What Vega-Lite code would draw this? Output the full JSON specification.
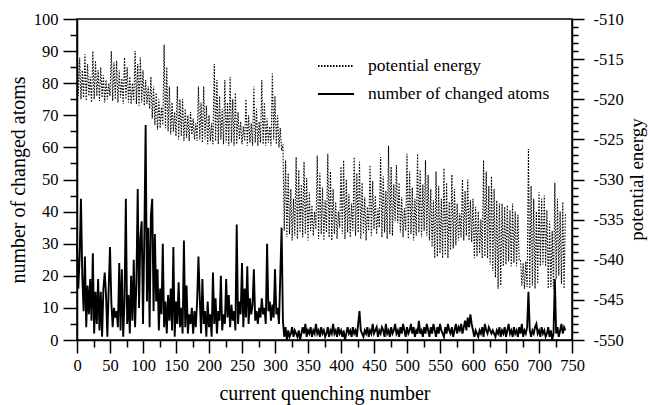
{
"$schema": "https://vega.github.io/schema/vega-lite/v6.json",
"width": 495, "height": 321,
"autosize": {"type": "none"},
"padding": {"left": 77, "top": 19, "right": 78, "bottom": 65},
"background": "white",
"data": {"values": [
{"q":0,"n":30,"e":-512.4},{"q":2,"n":16,"e":-519.6},{"q":4,"n":26,"e":-514.8},{"q":6,"n":44,"e":-520.0},{"q":8,"n":20,"e":-516.4},
{"q":10,"n":9,"e":-519.8},{"q":12,"n":26,"e":-514.4},{"q":14,"n":4,"e":-520.2},{"q":16,"n":17,"e":-515.6},{"q":18,"n":8,"e":-519.6},
{"q":20,"n":19,"e":-517.2},{"q":22,"n":6,"e":-520.4},{"q":24,"n":27,"e":-514.0},{"q":26,"n":2,"e":-520.0},{"q":28,"n":15,"e":-515.2},
{"q":30,"n":5,"e":-519.6},{"q":32,"n":19,"e":-516.4},{"q":34,"n":3,"e":-520.2},{"q":36,"n":15,"e":-516.0},{"q":38,"n":1,"e":-519.8},
{"q":40,"n":16,"e":-517.0},{"q":42,"n":21,"e":-520.4},{"q":44,"n":14,"e":-517.6},{"q":46,"n":1,"e":-520.0},{"q":48,"n":16,"e":-518.0},
{"q":50,"n":29,"e":-519.6},{"q":52,"n":12,"e":-514.0},{"q":54,"n":4,"e":-520.2},{"q":56,"n":10,"e":-515.4},{"q":58,"n":7,"e":-520.0},
{"q":60,"n":9,"e":-515.2},{"q":62,"n":4,"e":-520.4},{"q":64,"n":24,"e":-516.4},{"q":66,"n":3,"e":-519.8},{"q":68,"n":22,"e":-517.4},
{"q":70,"n":1,"e":-520.6},{"q":72,"n":12,"e":-514.8},{"q":74,"n":44,"e":-520.0},{"q":76,"n":5,"e":-516.0},{"q":78,"n":14,"e":-520.4},
{"q":80,"n":2,"e":-517.2},{"q":82,"n":20,"e":-520.6},{"q":84,"n":6,"e":-518.0},{"q":86,"n":25,"e":-520.2},{"q":88,"n":4,"e":-514.0},
{"q":90,"n":18,"e":-520.6},{"q":92,"n":47,"e":-515.6},{"q":94,"n":10,"e":-520.8},{"q":96,"n":32,"e":-514.8},{"q":98,"n":37,"e":-520.4},
{"q":100,"n":5,"e":-516.4},{"q":102,"n":32,"e":-520.8},{"q":104,"n":67,"e":-517.6},{"q":106,"n":12,"e":-520.6},{"q":108,"n":35,"e":-518.4},
{"q":110,"n":4,"e":-521.2},{"q":112,"n":39,"e":-517.2},{"q":114,"n":44,"e":-522.4},{"q":116,"n":9,"e":-518.4},{"q":118,"n":33,"e":-523.2},
{"q":120,"n":12,"e":-519.2},{"q":122,"n":22,"e":-523.8},{"q":124,"n":3,"e":-520.0},{"q":126,"n":16,"e":-523.6},{"q":128,"n":8,"e":-521.0},
{"q":130,"n":30,"e":-523.2},{"q":132,"n":4,"e":-513.2},{"q":134,"n":12,"e":-523.6},{"q":136,"n":2,"e":-516.0},{"q":138,"n":14,"e":-524.0},
{"q":140,"n":6,"e":-518.4},{"q":142,"n":16,"e":-524.4},{"q":144,"n":3,"e":-520.4},{"q":146,"n":29,"e":-524.0},{"q":148,"n":1,"e":-521.6},
{"q":150,"n":12,"e":-524.6},{"q":152,"n":5,"e":-518.4},{"q":154,"n":18,"e":-525.0},{"q":156,"n":4,"e":-520.0},{"q":158,"n":10,"e":-524.6},
{"q":160,"n":2,"e":-520.0},{"q":162,"n":31,"e":-525.2},{"q":164,"n":4,"e":-521.2},{"q":166,"n":17,"e":-524.8},{"q":168,"n":2,"e":-522.0},
{"q":170,"n":8,"e":-525.2},{"q":172,"n":5,"e":-521.6},{"q":174,"n":10,"e":-524.4},{"q":176,"n":2,"e":-522.4},{"q":178,"n":9,"e":-525.0},
{"q":180,"n":4,"e":-523.0},{"q":182,"n":12,"e":-525.2},{"q":184,"n":26,"e":-518.4},{"q":186,"n":13,"e":-525.0},{"q":188,"n":2,"e":-520.4},
{"q":190,"n":19,"e":-525.4},{"q":192,"n":5,"e":-518.4},{"q":194,"n":9,"e":-525.0},{"q":196,"n":1,"e":-520.8},{"q":198,"n":12,"e":-525.6},
{"q":200,"n":4,"e":-522.0},{"q":202,"n":8,"e":-525.2},{"q":204,"n":1,"e":-523.0},{"q":206,"n":21,"e":-525.6},{"q":208,"n":5,"e":-515.6},
{"q":210,"n":13,"e":-525.2},{"q":212,"n":2,"e":-517.6},{"q":214,"n":9,"e":-525.6},{"q":216,"n":6,"e":-519.6},{"q":218,"n":20,"e":-525.0},
{"q":220,"n":3,"e":-521.2},{"q":222,"n":8,"e":-525.6},{"q":224,"n":5,"e":-517.6},{"q":226,"n":19,"e":-525.4},{"q":228,"n":7,"e":-520.4},
{"q":230,"n":14,"e":-525.8},{"q":232,"n":4,"e":-517.2},{"q":234,"n":11,"e":-525.4},{"q":236,"n":6,"e":-520.0},{"q":238,"n":9,"e":-525.8},
{"q":240,"n":3,"e":-519.2},{"q":242,"n":36,"e":-525.6},{"q":244,"n":5,"e":-521.6},{"q":246,"n":12,"e":-525.0},{"q":248,"n":8,"e":-522.8},
{"q":250,"n":24,"e":-525.6},{"q":252,"n":4,"e":-523.4},{"q":254,"n":16,"e":-525.2},{"q":256,"n":7,"e":-520.0},{"q":258,"n":23,"e":-525.8},
{"q":260,"n":5,"e":-522.0},{"q":262,"n":13,"e":-525.4},{"q":264,"n":8,"e":-523.0},{"q":266,"n":11,"e":-525.8},{"q":268,"n":22,"e":-518.4},
{"q":270,"n":6,"e":-525.4},{"q":272,"n":9,"e":-521.2},{"q":274,"n":5,"e":-525.8},{"q":276,"n":10,"e":-522.8},{"q":278,"n":7,"e":-525.4},
{"q":280,"n":13,"e":-517.6},{"q":282,"n":8,"e":-525.6},{"q":284,"n":10,"e":-520.4},{"q":286,"n":5,"e":-525.8},{"q":288,"n":30,"e":-522.4},
{"q":290,"n":9,"e":-525.4},{"q":292,"n":12,"e":-523.4},{"q":294,"n":6,"e":-525.8},{"q":296,"n":11,"e":-516.8},{"q":298,"n":7,"e":-525.0},
{"q":300,"n":22,"e":-519.6},{"q":302,"n":8,"e":-525.6},{"q":304,"n":10,"e":-522.0},{"q":306,"n":5,"e":-526.0},{"q":308,"n":20,"e":-523.6},
{"q":310,"n":35,"e":-526.4},{"q":312,"n":6,"e":-525.6},{"q":314,"n":1,"e":-536.4},{"q":316,"n":4,"e":-527.6},{"q":318,"n":0,"e":-537.2},
{"q":320,"n":3,"e":-529.2},{"q":322,"n":1,"e":-536.8},{"q":324,"n":2,"e":-531.2},{"q":326,"n":4,"e":-537.6},{"q":328,"n":1,"e":-532.4},
{"q":330,"n":3,"e":-537.0},{"q":332,"n":2,"e":-527.2},{"q":334,"n":1,"e":-537.4},{"q":336,"n":3,"e":-528.8},{"q":338,"n":0,"e":-536.6},
{"q":340,"n":2,"e":-530.6},{"q":342,"n":4,"e":-537.2},{"q":344,"n":2,"e":-527.8},{"q":346,"n":5,"e":-536.8},{"q":348,"n":1,"e":-529.8},
{"q":350,"n":3,"e":-537.6},{"q":352,"n":2,"e":-531.6},{"q":354,"n":4,"e":-536.4},{"q":356,"n":1,"e":-533.2},{"q":358,"n":3,"e":-537.0},
{"q":360,"n":2,"e":-534.0},{"q":362,"n":5,"e":-536.2},{"q":364,"n":2,"e":-527.0},{"q":366,"n":3,"e":-537.4},{"q":368,"n":1,"e":-529.2},
{"q":370,"n":4,"e":-536.8},{"q":372,"n":2,"e":-531.0},{"q":374,"n":3,"e":-537.6},{"q":376,"n":1,"e":-532.6},{"q":378,"n":2,"e":-536.6},
{"q":380,"n":4,"e":-526.8},{"q":382,"n":1,"e":-537.2},{"q":384,"n":3,"e":-529.0},{"q":386,"n":2,"e":-537.6},{"q":388,"n":5,"e":-531.2},
{"q":390,"n":2,"e":-536.8},{"q":392,"n":3,"e":-532.8},{"q":394,"n":1,"e":-537.4},{"q":396,"n":4,"e":-534.0},{"q":398,"n":2,"e":-536.0},
{"q":400,"n":3,"e":-528.4},{"q":402,"n":1,"e":-536.8},{"q":404,"n":3,"e":-527.6},{"q":406,"n":0,"e":-537.4},{"q":408,"n":2,"e":-530.0},
{"q":410,"n":4,"e":-536.6},{"q":412,"n":2,"e":-531.8},{"q":414,"n":3,"e":-537.2},{"q":416,"n":1,"e":-533.0},{"q":418,"n":4,"e":-536.4},
{"q":420,"n":2,"e":-527.2},{"q":422,"n":3,"e":-537.0},{"q":424,"n":1,"e":-529.2},{"q":426,"n":5,"e":-536.6},{"q":428,"n":9,"e":-527.8},
{"q":430,"n":3,"e":-537.4},{"q":432,"n":2,"e":-530.4},{"q":434,"n":1,"e":-536.8},{"q":436,"n":3,"e":-532.2},{"q":438,"n":2,"e":-537.6},
{"q":440,"n":4,"e":-533.4},{"q":442,"n":1,"e":-536.4},{"q":444,"n":3,"e":-528.2},{"q":446,"n":2,"e":-537.0},{"q":448,"n":5,"e":-530.2},
{"q":450,"n":2,"e":-536.2},{"q":452,"n":3,"e":-532.0},{"q":454,"n":4,"e":-536.8},{"q":456,"n":1,"e":-533.6},{"q":458,"n":3,"e":-536.0},
{"q":460,"n":2,"e":-527.2},{"q":462,"n":4,"e":-537.2},{"q":464,"n":3,"e":-529.6},{"q":466,"n":1,"e":-536.6},{"q":468,"n":5,"e":-531.4},
{"q":470,"n":2,"e":-537.4},{"q":472,"n":3,"e":-525.8},{"q":474,"n":1,"e":-536.8},{"q":476,"n":4,"e":-528.4},{"q":478,"n":2,"e":-537.0},
{"q":480,"n":3,"e":-530.6},{"q":482,"n":5,"e":-535.2},{"q":484,"n":2,"e":-528.2},{"q":486,"n":3,"e":-535.4},{"q":488,"n":1,"e":-530.4},
{"q":490,"n":4,"e":-536.6},{"q":492,"n":2,"e":-532.2},{"q":494,"n":5,"e":-537.2},{"q":496,"n":3,"e":-533.6},{"q":498,"n":1,"e":-536.4},
{"q":500,"n":4,"e":-526.8},{"q":502,"n":2,"e":-537.4},{"q":504,"n":3,"e":-529.0},{"q":506,"n":5,"e":-536.8},{"q":508,"n":2,"e":-531.0},
{"q":510,"n":4,"e":-537.6},{"q":512,"n":1,"e":-532.4},{"q":514,"n":3,"e":-537.0},{"q":516,"n":2,"e":-526.8},{"q":518,"n":6,"e":-536.6},
{"q":520,"n":2,"e":-528.8},{"q":522,"n":3,"e":-537.2},{"q":524,"n":1,"e":-530.6},{"q":526,"n":4,"e":-536.4},{"q":528,"n":2,"e":-527.6},
{"q":530,"n":5,"e":-537.0},{"q":532,"n":3,"e":-529.4},{"q":534,"n":1,"e":-537.6},{"q":536,"n":4,"e":-531.2},{"q":538,"n":2,"e":-538.4},
{"q":540,"n":5,"e":-532.6},{"q":542,"n":3,"e":-539.8},{"q":544,"n":1,"e":-529.0},{"q":546,"n":4,"e":-539.6},{"q":548,"n":2,"e":-530.8},
{"q":550,"n":5,"e":-539.2},{"q":552,"n":3,"e":-532.4},{"q":554,"n":2,"e":-539.8},{"q":556,"n":1,"e":-528.6},{"q":558,"n":4,"e":-539.4},
{"q":560,"n":2,"e":-530.4},{"q":562,"n":5,"e":-539.8},{"q":564,"n":3,"e":-532.8},{"q":566,"n":2,"e":-538.8},{"q":568,"n":4,"e":-529.4},
{"q":570,"n":1,"e":-538.6},{"q":572,"n":3,"e":-531.2},{"q":574,"n":5,"e":-538.2},{"q":576,"n":2,"e":-533.0},{"q":578,"n":4,"e":-537.6},
{"q":580,"n":3,"e":-534.2},{"q":582,"n":5,"e":-537.2},{"q":584,"n":2,"e":-530.0},{"q":586,"n":4,"e":-537.6},{"q":588,"n":6,"e":-531.4},
{"q":590,"n":3,"e":-537.0},{"q":592,"n":7,"e":-530.0},{"q":594,"n":4,"e":-537.6},{"q":596,"n":8,"e":-532.6},{"q":598,"n":5,"e":-537.8},
{"q":600,"n":3,"e":-532.4},{"q":602,"n":1,"e":-539.8},{"q":604,"n":3,"e":-533.4},{"q":606,"n":2,"e":-539.6},{"q":608,"n":1,"e":-534.0},
{"q":610,"n":3,"e":-539.2},{"q":612,"n":2,"e":-535.0},{"q":614,"n":4,"e":-539.8},{"q":616,"n":1,"e":-527.6},{"q":618,"n":5,"e":-539.6},
{"q":620,"n":3,"e":-529.0},{"q":622,"n":2,"e":-539.8},{"q":624,"n":4,"e":-530.8},{"q":626,"n":3,"e":-540.6},{"q":628,"n":2,"e":-529.6},
{"q":630,"n":3,"e":-541.4},{"q":632,"n":2,"e":-531.2},{"q":634,"n":1,"e":-542.2},{"q":636,"n":3,"e":-532.6},{"q":638,"n":2,"e":-543.6},
{"q":640,"n":4,"e":-533.0},{"q":642,"n":1,"e":-543.2},{"q":644,"n":3,"e":-533.0},{"q":646,"n":2,"e":-540.8},{"q":648,"n":4,"e":-533.4},
{"q":650,"n":1,"e":-540.6},{"q":652,"n":3,"e":-533.2},{"q":654,"n":5,"e":-540.2},{"q":656,"n":2,"e":-533.8},{"q":658,"n":3,"e":-540.8},
{"q":660,"n":1,"e":-533.0},{"q":662,"n":4,"e":-540.4},{"q":664,"n":2,"e":-534.0},{"q":666,"n":3,"e":-540.8},{"q":668,"n":1,"e":-534.4},
{"q":670,"n":4,"e":-540.0},{"q":672,"n":2,"e":-540.0},{"q":674,"n":5,"e":-543.2},{"q":676,"n":1,"e":-540.4},{"q":678,"n":3,"e":-543.6},
{"q":680,"n":2,"e":-540.2},{"q":682,"n":4,"e":-543.4},{"q":684,"n":15,"e":-526.2},{"q":686,"n":3,"e":-543.6},{"q":688,"n":1,"e":-530.8},
{"q":690,"n":3,"e":-543.2},{"q":692,"n":2,"e":-532.4},{"q":694,"n":4,"e":-543.6},{"q":696,"n":5,"e":-534.0},{"q":698,"n":2,"e":-543.0},
{"q":700,"n":3,"e":-531.6},{"q":702,"n":1,"e":-540.8},{"q":704,"n":4,"e":-532.4},{"q":706,"n":2,"e":-540.6},{"q":708,"n":3,"e":-532.0},
{"q":710,"n":1,"e":-540.8},{"q":712,"n":2,"e":-533.8},{"q":714,"n":4,"e":-543.6},{"q":716,"n":1,"e":-535.2},{"q":718,"n":3,"e":-543.4},
{"q":720,"n":0,"e":-536.4},{"q":722,"n":2,"e":-543.6},{"q":724,"n":19,"e":-530.4},{"q":726,"n":2,"e":-542.4},{"q":728,"n":4,"e":-532.4},
{"q":730,"n":1,"e":-542.0},{"q":732,"n":3,"e":-534.0},{"q":734,"n":5,"e":-543.0},{"q":736,"n":2,"e":-532.8},{"q":738,"n":4,"e":-543.6},
{"q":740,"n":3,"e":-534.2}
]},
"layer": [
  {
    "layer": [
      {
        "mark": {"type": "line", "color": "black", "strokeWidth": 1.9},
        "encoding": {
          "x": {"field": "q", "type": "quantitative", "scale": {"domain": [0, 750], "nice": false},
                "axis": {"orient": "bottom", "values": [0,50,100,150,200,250,300,350,400,450,500,550,600,650,700,750],
                         "tickSize": 13, "labelPadding": 4, "title": "current quenching number", "titlePadding": 10}},
          "y": {"field": "n", "type": "quantitative", "scale": {"domain": [0, 100], "nice": false},
                "axis": {"orient": "left", "values": [0,10,20,30,40,50,60,70,80,90,100],
                         "tickSize": 14, "labelPadding": 5, "title": "number of changed atoms", "titlePadding": 5}},
          "strokeDash": {"datum": "number of changed atoms", "type": "nominal",
                "scale": {"domain": ["potential energy", "number of changed atoms"], "range": [[1.5, 1.5], [1, 0]]},
                "legend": {"orient": "none", "legendX": 240, "legendY": 28, "title": null,
                           "symbolType": "stroke", "symbolSize": 1296, "symbolStrokeWidth": 1.8,
                           "symbolStrokeColor": "black", "labelFont": "Liberation Serif", "labelFontSize": 17.5,
                           "labelColor": "black", "labelOffset": 13, "labelLimit": 400, "rowPadding": -1, "padding": 0}}
        }
      },
      {
        "mark": {"type": "line", "opacity": 0},
        "encoding": {
          "x": {"field": "q", "type": "quantitative",
                "axis": {"orient": "bottom", "values": [25,75,125,175,225,275,325,375,425,475,525,575,625,675,725],
                         "tickSize": 7, "labels": false, "domain": false, "title": null}},
          "y": {"field": "n", "type": "quantitative",
                "axis": {"orient": "left", "values": [5,15,25,35,45,55,65,75,85,95],
                         "tickSize": 7, "labels": false, "domain": false, "title": null}}
        }
      }
    ],
    "resolve": {"axis": {"x": "independent", "y": "independent"}}
  },
  {
    "layer": [
      {
        "mark": {"type": "line", "color": "black", "strokeWidth": 1.1},
        "encoding": {
          "x": {"field": "q", "type": "quantitative", "axis": null},
          "y": {"field": "e", "type": "quantitative", "scale": {"domain": [-550, -510], "nice": false},
                "axis": {"orient": "right", "values": [-550,-545,-540,-535,-530,-525,-520,-515,-510],
                         "tickSize": 12, "labelPadding": 9, "labelExpr": "'-' + abs(datum.value)",
                         "title": "potential energy", "titleAngle": -90, "titleX": 64, "titleY": 160,
                         "titleFontSize": 19, "titleAlign": "center", "titleBaseline": "middle"}},
          "strokeDash": {"datum": "potential energy", "type": "nominal"}
        }
      },
      {
        "mark": {"type": "line", "opacity": 0},
        "encoding": {
          "x": {"field": "q", "type": "quantitative", "axis": null},
          "y": {"field": "e", "type": "quantitative",
                "axis": {"orient": "right", "values": [-549,-548,-547,-546,-544,-543,-542,-541,-539,-538,-537,-536,-534,-533,-532,-531,-529,-528,-527,-526,-524,-523,-522,-521,-519,-518,-517,-516,-514,-513,-512,-511],
                         "tickSize": 6, "labels": false, "domain": false, "title": null}}
        }
      }
    ],
    "resolve": {"axis": {"y": "independent"}}
  }
],
"resolve": {"scale": {"y": "independent"}, "axis": {"x": "independent", "y": "independent"}},
"config": {
  "font": "Liberation Serif",
  "view": {"stroke": "black", "strokeWidth": 1.5},
  "axis": {"domainColor": "black", "domainWidth": 1.5, "tickColor": "black", "tickWidth": 1.5,
           "labelFont": "Liberation Serif", "labelFontSize": 16.5, "labelColor": "black",
           "titleFont": "Liberation Serif", "titleFontSize": 20, "titleFontWeight": "normal", "titleColor": "black",
           "grid": false, "labelFlush": false, "labelOverlap": false}
}
}
